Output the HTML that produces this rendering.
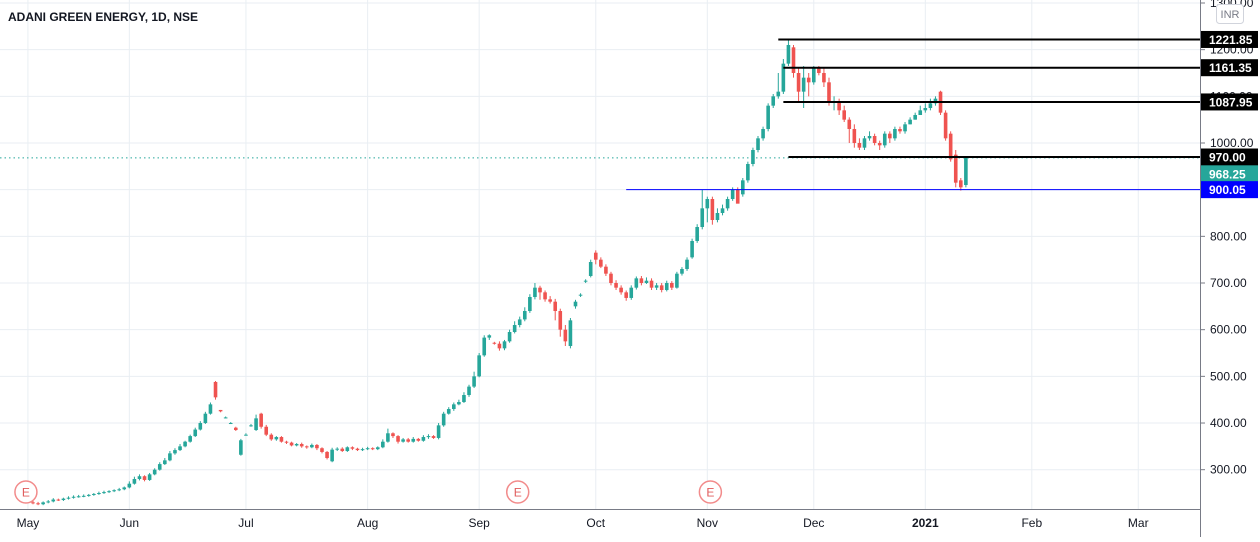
<!DOCTYPE html>
<html><head><meta charset="utf-8"><style>
body{margin:0;background:#fff;font-family:"Liberation Sans",sans-serif}
svg text{font-family:"Liberation Sans",sans-serif}
</style></head><body>
<svg id="chart" width="1260" height="537" xmlns="http://www.w3.org/2000/svg">
<rect width="1260" height="537" fill="#fff"/>
<g id="grid"></g>
<g id="candles"></g>
<g id="levels"></g>
<g id="yaxis"></g>
<g id="xaxis"></g>
<text x="8" y="21" font-size="12" font-weight="bold" fill="#131722">ADANI GREEN ENERGY, 1D, NSE</text>
<rect x="1216.5" y="4.5" width="27" height="19" rx="3" fill="#fff" stroke="#d1d4dc"/>
<text x="1230" y="18" font-size="11" fill="#787b86" text-anchor="middle">INR</text>
</svg>
<script>
const opens=[230,228,226,230,232,236,235,238,240,242,243,244,246,248,250,252,254,256,258,262,270,280,286,278,290,300,312,320,335,342,350,360,372,386,400,420,488,428,412,400,390,332,375,395,385,420,392,375,365,370,360,358,352,355,350,348,353,346,338,318,343,345,340,348,345,342,344,346,344,348,360,378,372,360,365,360,366,362,370,372,368,395,420,430,440,445,460,478,500,545,583,572,570,560,575,595,610,622,640,670,690,680,665,660,640,600,565,650,673,703,715,765,750,735,720,700,690,680,668,690,710,700,705,690,695,685,700,690,720,730,755,790,820,860,880,835,850,860,880,900,890,920,955,985,1010,1030,1080,1100,1110,1170,1205,1150,1110,1140,1130,1160,1150,1130,1090,1090,1070,1050,1030,1000,990,1010,1015,1000,995,1020,1010,1030,1025,1040,1050,1060,1070,1075,1085,1110,1065,1020,975,920,910];
const highs=[233,231,232,235,239,238,240,243,245,246,247,248,250,253,255,256,258,261,264,275,285,290,288,293,303,316,325,340,346,355,362,375,390,404,424,444,490,428,414,402,392,366,378,398,418,422,396,378,372,372,362,360,357,358,352,356,355,348,340,347,348,348,350,350,347,347,349,348,350,365,388,380,374,368,368,370,368,374,376,374,400,424,434,444,450,466,482,510,550,588,590,574,575,578,600,618,628,648,676,700,694,684,672,666,645,610,625,664,678,708,750,770,755,740,724,706,695,684,695,714,715,712,710,700,700,705,704,724,734,755,795,826,900,885,885,860,868,885,905,905,925,960,990,1015,1035,1085,1105,1150,1180,1222,1210,1160,1165,1150,1165,1165,1160,1140,1100,1095,1080,1055,1040,1010,1015,1025,1020,1005,1025,1025,1035,1035,1045,1055,1065,1080,1085,1095,1100,1112,1070,1025,985,925,972];
const lows=[226,224,224,228,230,233,233,236,238,240,241,242,244,246,248,250,252,254,256,260,268,277,275,276,288,298,310,318,332,340,348,358,370,384,398,418,450,423,410,398,383,330,373,392,383,388,372,362,362,358,355,350,350,347,345,346,342,335,322,316,340,338,338,342,340,340,342,342,342,346,358,368,356,358,358,358,360,360,366,366,365,392,418,426,438,443,456,475,498,542,578,568,555,556,572,592,605,618,636,665,664,660,656,620,585,565,560,645,670,700,712,740,732,715,695,685,675,662,664,686,695,698,685,685,680,682,685,688,716,726,752,786,815,830,825,830,845,855,876,880,885,915,950,980,1005,1025,1075,1095,1105,1165,1140,1090,1075,1100,1125,1145,1120,1080,1070,1060,1045,1000,990,985,985,1005,995,985,990,1000,1005,1020,1020,1040,1050,1060,1065,1070,1080,1060,1005,960,905,898,905];
const closes=[228,226,230,232,236,235,238,240,242,243,244,246,248,250,252,254,256,258,262,270,280,286,278,290,300,312,320,335,342,350,360,372,386,400,420,440,455,425,412,400,385,363,375,395,410,392,375,365,370,360,358,352,355,350,348,353,346,338,325,343,345,340,348,345,342,344,346,344,348,360,378,372,360,365,360,366,362,370,372,368,395,420,430,440,445,460,478,500,545,583,588,570,560,575,595,610,622,640,670,690,680,665,660,640,600,575,620,660,675,705,745,750,735,720,700,690,680,668,690,710,700,705,690,695,685,700,690,720,730,750,790,820,860,880,835,850,860,880,900,870,920,955,985,1010,1030,1080,1100,1110,1170,1210,1150,1110,1140,1130,1160,1150,1130,1090,1090,1070,1050,1030,1000,990,1010,1015,1000,995,1020,1010,1030,1025,1040,1050,1060,1070,1075,1085,1095,1065,1010,965,915,905,968.25];
const priceTicks=[300,400,500,600,700,800,900,1000,1100,1200,1300];
const monthLabels=["May","Jun","Jul","Aug","Sep","Oct","Nov","Dec","2021","Feb","Mar"];
const monthBars=[-1,19,42,66,88,111,133,154,176,197,218];
const levelValues=[1221.85,1161.35,1087.95,970.00];
const levelStartBars=[147,148,148,149];
const supportValue=900.05, supportStart=117, lastValue=968.25;
const earningsBars=[-1,96,134];

const NS="http://www.w3.org/2000/svg";
const y=p=>143+(1000-p)*0.4667;
const x=i=>33+i*5.07;
function mk(t,a,parent){const e=document.createElementNS(NS,t);for(const k in a)e.setAttribute(k,a[k]);parent.appendChild(e);return e;}
const grid=document.getElementById('grid'),cg=document.getElementById('candles'),lg=document.getElementById('levels'),ya=document.getElementById('yaxis'),xa=document.getElementById('xaxis');
priceTicks.forEach(p=>{
 const l=mk('line',{x1:0,x2:1200,y1:y(p),y2:y(p),stroke:'#e9eef3'},grid);
 
 
 const t=mk('text',{x:1210,y:y(p)+4,'font-size':12,fill:'#131722'},ya);t.textContent=p.toFixed(2);
 
 
 mk('line',{x1:1200,x2:1205,y1:y(p),y2:y(p),stroke:'#787b86'},ya);
});
monthBars.forEach((b,k)=>{
 const l=mk('line',{x1:x(b),x2:x(b),y1:0,y2:509,stroke:'#e9eef3'},grid);
 
 
 const t=mk('text',{x:x(b),y:527,'font-size':12,fill:'#131722','text-anchor':'middle','font-weight':k==8?'bold':'normal'},xa);t.textContent=monthLabels[k];
 
 
});
mk('line',{x1:1200.5,x2:1200.5,y1:0,y2:537,stroke:'#787b86'},ya);
mk('line',{x1:0,x2:1200,y1:509.5,y2:509.5,stroke:'#787b86'},xa);
closes.forEach((c,i)=>{
 const o=opens[i],up=c>=o,col=up?'#26a69a':'#ef5350',cx=x(i);
 const w=mk('line',{x1:cx,x2:cx,y1:y(highs[i]),y2:y(lows[i]),stroke:col},cg);
 
 
 const top=y(Math.max(o,c)),h=Math.max(1,Math.abs(y(o)-y(c)));
 const r=mk('rect',{x:cx-1.8,y:top,width:3.6,height:h,fill:col},cg);
 
 
});
earningsBars.forEach(b=>{
 const g=mk('g',{},cg);
 
 
 mk('circle',{cx:x(b)-2,cy:492,r:11,fill:'#fff',stroke:'#f28b8b','stroke-width':1.5},g);
 const t=mk('text',{x:x(b)-2,y:496.5,'font-size':12,fill:'#e05b5b','text-anchor':'middle'},g);t.textContent='E';
});
const dl=mk('line',{x1:0,x2:1200,y1:y(lastValue),y2:y(lastValue),stroke:'#26a69a','stroke-dasharray':'1.5 3'},lg);


const sl=mk('line',{x1:x(supportStart),x2:1200,y1:y(supportValue),y2:y(supportValue),stroke:'#0000ff','stroke-width':1},lg);


levelValues.forEach((v,k)=>{
 const l=mk('line',{x1:x(levelStartBars[k]),x2:1200,y1:y(v),y2:y(v),stroke:'#000','stroke-width':2},lg);
 
 
});
function badge(v,bg,name,dy){
 const g=mk('g',{},ya);
 
 
 const cy=y(v)+dy;
 mk('rect',{x:1201,y:cy-8.5,width:57,height:17,fill:bg},g);
 const t=mk('text',{x:1209,y:cy+4.5,'font-size':12,'font-weight':'bold',fill:'#fff'},g);t.textContent=v.toFixed(2);
}
levelValues.forEach(v=>badge(v,'#000','level-price-badge',0));
badge(lastValue,'#26a69a','last-price-badge',16);
badge(supportValue,'#0000ff','support-price-badge',0);
</script>
</body></html>
